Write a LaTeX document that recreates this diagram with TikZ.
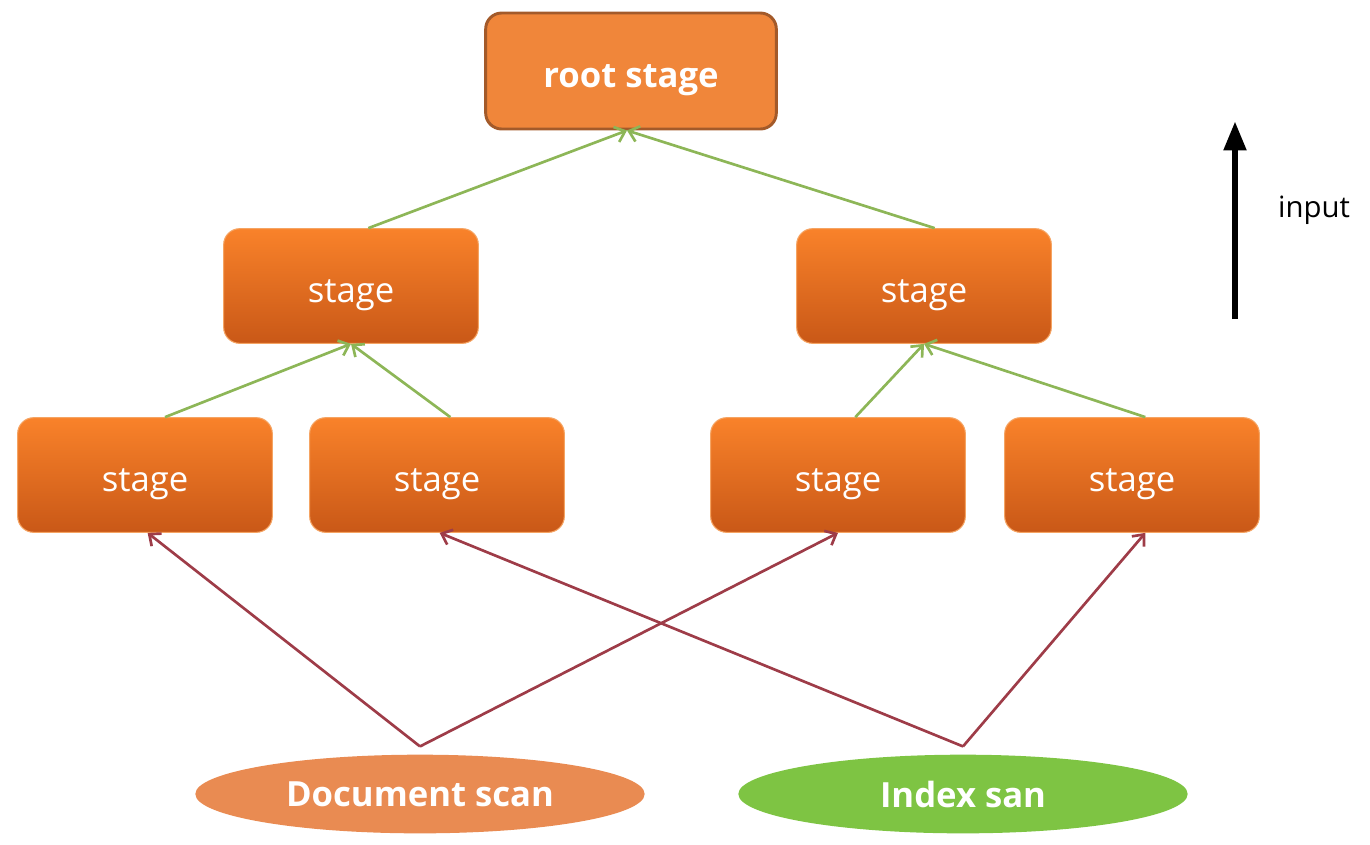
\documentclass[tikz,border=0pt]{standalone}
\usepackage{fontspec}
\setmainfont{Open Sans}
\usetikzlibrary{arrows.meta,shapes.geometric}

\definecolor{stagetop}{HTML}{F9822A}
\definecolor{stagebot}{HTML}{C95817}
\definecolor{stageline}{HTML}{F5A463}
\definecolor{rootfill}{HTML}{F0863A}
\definecolor{rootline}{HTML}{A35A2A}
\definecolor{docfill}{HTML}{E98B52}
\definecolor{idxfill}{HTML}{7EC443}
\definecolor{upgreen}{HTML}{8DB657}
\definecolor{scanred}{HTML}{9E3C48}

\tikzset{
  stagebox/.style={rectangle, rounded corners=12pt, draw=stageline, line width=0.8pt,
    top color=stagetop, bottom color=stagebot, text=white,
    text height=25pt, text depth=0pt,
    minimum width=191pt, minimum height=86pt, font=\fontsize{26}{30}\selectfont},
  scannode/.style={ellipse, minimum width=337pt, minimum height=59pt, text=white,
    font=\bfseries\fontsize{26}{30}\selectfont},
  green arrow/.style={draw=upgreen, line width=2pt, -{Straight Barb[length=7pt,width=12pt]}},
  red arrow/.style={draw=scanred, line width=2pt, -{Straight Barb[length=7pt,width=12pt]}}
}

\begin{document}
\begin{tikzpicture}[x=0.75pt,y=0.75pt,yscale=-1,xscale=1]
\useasboundingbox (0,0) rectangle (1370,844);

% root
\node [rectangle, rounded corners=12pt, draw=rootline, line width=2.2pt, fill=rootfill,
  text=white, minimum width=218pt, minimum height=87pt, text height=24pt, text depth=0pt,
  font=\bfseries\fontsize{26}{30}\selectfont] (root) at (631,71) {root stage};

% middle stages
\node [stagebox] (midl) at (351,286) {stage};
\node [stagebox] (midr) at (924,286) {stage};

% leaf stages
\node [stagebox] (s1) at (145,475) {stage};
\node [stagebox] (s2) at (437,475) {stage};
\node [stagebox] (s3) at (838,475) {stage};
\node [stagebox] (s4) at (1132,475) {stage};

% scans
\node [scannode, fill=docfill] (doc) at (420,794) {Document scan};
\node [scannode, fill=idxfill] (idx) at (963,794) {Index san};

% green arrows
\draw [green arrow] ([xshift=15pt]s1.north) -- (midl.south);
\draw [green arrow] ([xshift=10pt]s2.north) -- (midl.south);
\draw [green arrow] ([xshift=13pt]s3.north) -- (midr.south);
\draw [green arrow] ([xshift=10pt]s4.north) -- (midr.south);
\draw [green arrow] ([xshift=13pt]midl.north) -- ([xshift=-3pt]root.south);
\draw [green arrow] ([xshift=8pt]midr.north) -- ([xshift=-3pt]root.south);

% red arrows
\draw [red arrow] ([yshift=-6pt]doc.north) -- ([xshift=2pt]s1.south);
\draw [red arrow] ([yshift=-6pt]doc.north) -- (s3.south);
\draw [red arrow] ([yshift=-6pt]idx.north) -- ([xshift=2pt]s2.south);
\draw [red arrow] ([yshift=-6pt]idx.north) -- ([xshift=10pt]s4.south);

% input arrow
\coordinate (inlow) at (1235,319);
\coordinate (inhigh) at (1235,121);
\draw [line width=5pt, -{Triangle[length=22pt,width=16pt]}] (inlow) -- (inhigh);
\node [font=\fontsize{22}{26}\selectfont, text=black] (inlabel) at (1314,210) {input};
\end{tikzpicture}
\end{document}
